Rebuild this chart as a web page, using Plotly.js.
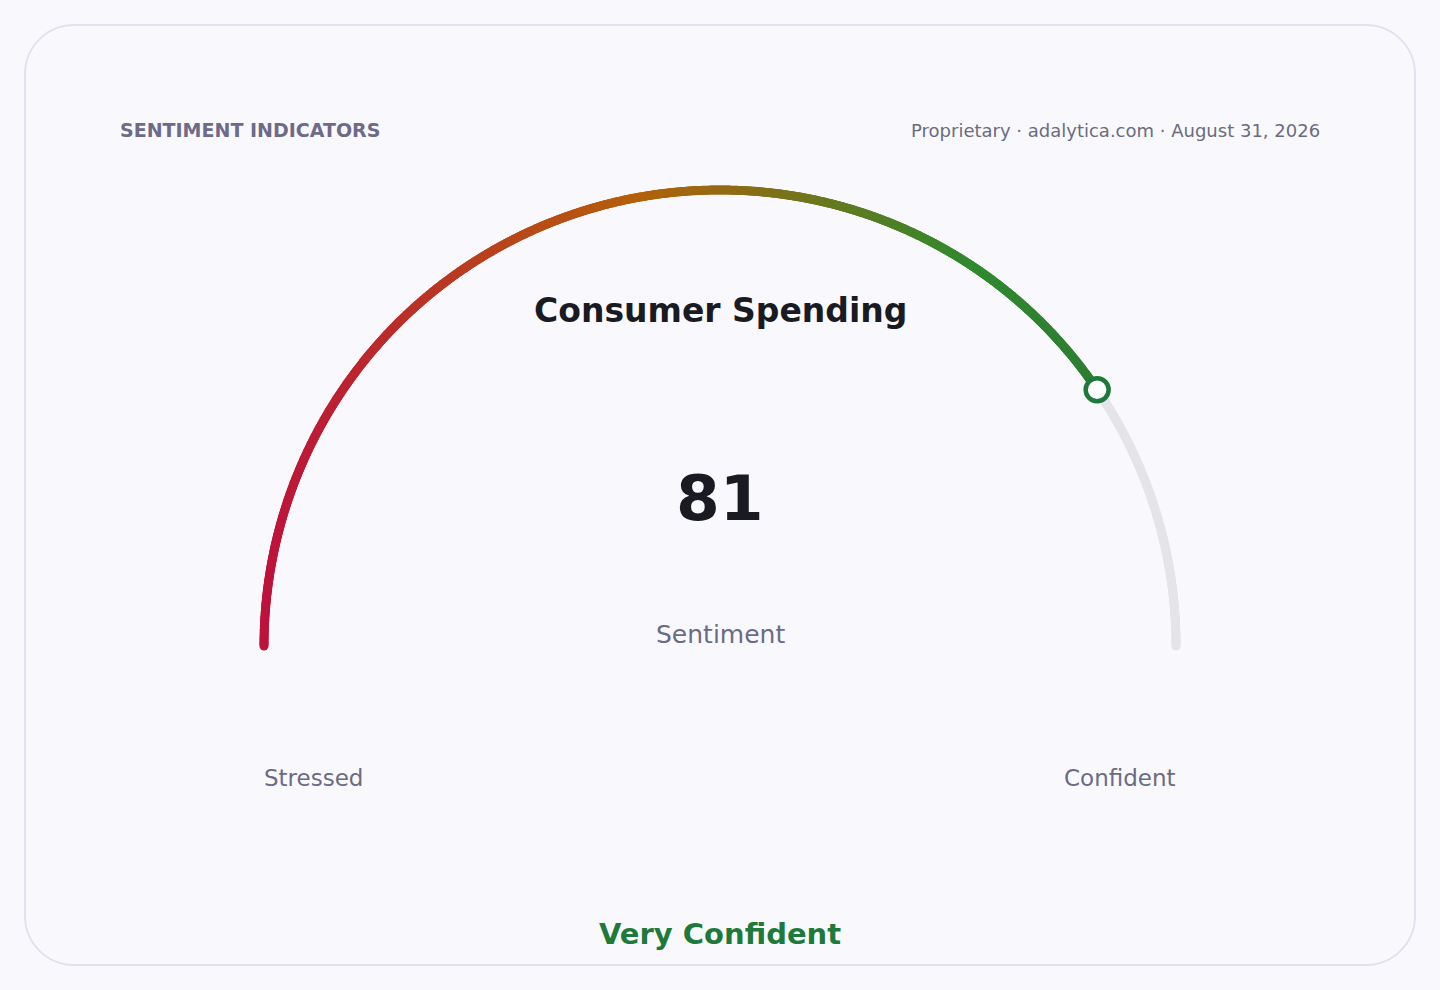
<!DOCTYPE html>
<html>
<head>
<meta charset="utf-8">
<script src="https://cdn.plot.ly/plotly-3.0.1.min.js"></script>
<style>
  html, body { margin: 0; padding: 0; background: #f9f9fd; }
  #card { position: absolute; left: 24px; top: 24px; width: 1388px; height: 938px;
          border: 2px solid #e2e2ee; border-radius: 50px; background: #f9f9fd; }
  #chart { position: absolute; left: 0; top: 0; width: 1440px; height: 990px; }
</style>
</head>
<body>
<div id="card"></div>
<div id="chart"></div>
<script>
// gauge data
var gaugeMin = 0;
var gaugeMax = 100;
var gaugeValue = 81;
var gaugeTitle = "Consumer Spending";
var gaugeUnit = "Sentiment";
var endLabels = ["Stressed", "Confident"];
var verdict = "Very Confident";
var kicker = "SENTIMENT INDICATORS";
var source = "Proprietary · adalytica.com · August 31, 2026";

// gradient stops for the filled part (left → right along x)
var gradStops = [[0, "#be123c"], [0.45, "#b5600a"], [0.85, "#2f8a2e"], [1, "#2e7d32"]];

(function () {
  var W = 1440, H = 990, R = 456, CX = 720, CY = 646;
  var font = "DejaVu Sans, Verdana, sans-serif";

  function angleOf(v) { return Math.PI * (1 - (v - gaugeMin) / (gaugeMax - gaugeMin)); }
  function arcPts(v0, v1, n) {
    var xs = [], ys = [];
    for (var i = 0; i <= n; i++) {
      var a = angleOf(v0 + (v1 - v0) * i / n);
      xs.push(Math.cos(a)); ys.push(Math.sin(a));
    }
    return { x: xs, y: ys };
  }

  var fill = arcPts(gaugeMin, gaugeValue, 900);
  var rest = arcPts(gaugeValue, gaugeMax, 300);
  var xEnd = fill.x[fill.x.length - 1];
  var colorT = fill.x.map(function (x) { return (x + 1) / (xEnd + 1); });
  var tip = arcPts(gaugeValue, gaugeValue, 1);

  var traces = [
    { x: rest.x, y: rest.y, mode: "markers", type: "scatter",
      marker: { size: 9, color: "#e4e4e9", line: { width: 0 } },
      hoverinfo: "skip", showlegend: false },
    { x: fill.x, y: fill.y, mode: "markers", type: "scatter",
      marker: { size: 9, color: colorT, colorscale: gradStops, cmin: 0, cmax: 1, line: { width: 0 } },
      hoverinfo: "skip", showlegend: false },
    { x: [tip.x[0]], y: [tip.y[0]], mode: "markers", type: "scatter",
      marker: { size: 23, color: "#ffffff", line: { width: 4.5, color: "#1e7a3a" } },
      hoverinfo: "skip", showlegend: false }
  ];

  function px(x) { return x / W; }
  function py(y) { return 1 - y / H; }
  function ann(text, x, y, size, color, bold, xanchor) {
    return { text: bold ? "<b>" + text + "</b>" : text, x: px(x), y: py(y), xref: "paper", yref: "paper",
      xanchor: xanchor || "center", yanchor: "middle", showarrow: false,
      font: { family: font, size: size, color: color } };
  }

  var layout = {
    width: W, height: H, margin: { l: 0, r: 0, t: 0, b: 0 },
    paper_bgcolor: "rgba(0,0,0,0)", plot_bgcolor: "rgba(0,0,0,0)",
    xaxis: { range: [-CX / R, (W - CX) / R], visible: false, fixedrange: true },
    yaxis: { range: [(CY - H) / R, CY / R], visible: false, fixedrange: true },
    annotations: [
      ann(kicker, 118, 130, 19, "#6e6a8a", true, "left"),
      ann(source, 1322, 131, 18, "#6b6b80", false, "right"),
      ann(gaugeTitle, 720, 310, 33, "#1a1a22", true),
      ann(String(gaugeValue), 720, 498, 63, "#1a1a22", true),
      ann(gaugeUnit, 720, 634, 25, "#6b6b85", false),
      ann(endLabels[0], 262, 778, 23, "#6b6b85", false, "left"),
      ann(endLabels[1], 1178, 778, 23, "#6b6b85", false, "right"),
      ann(verdict, 720, 934, 29, "#1e7a3a", true)
    ]
  };

  Plotly.newPlot("chart", traces, layout, { displayModeBar: false, staticPlot: true });
})();
</script>
</body>
</html>
